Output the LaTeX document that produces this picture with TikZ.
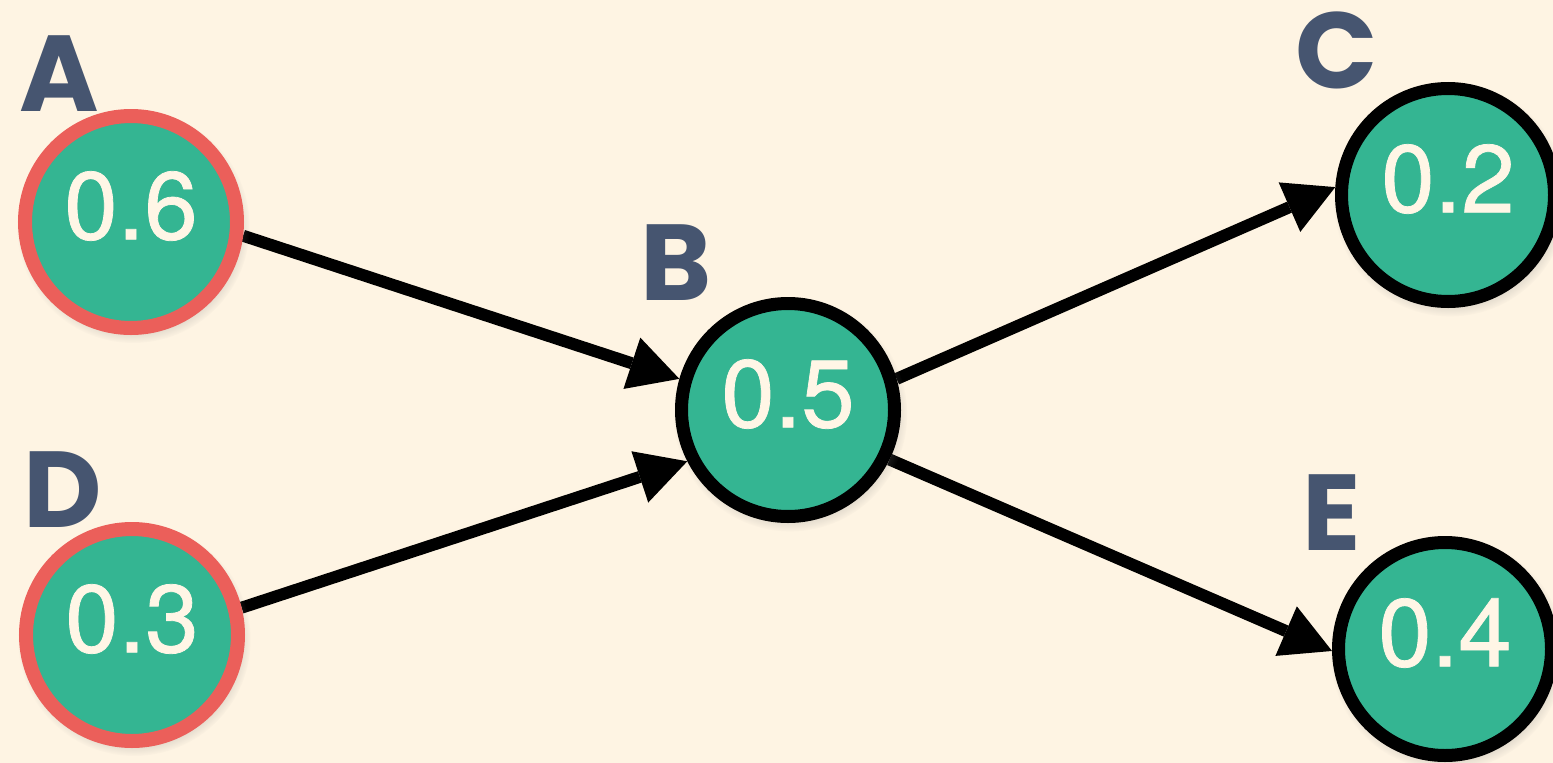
\documentclass[tikz,border=0pt]{standalone}
\usepackage{fontspec}
\usetikzlibrary{arrows.meta,shadows}
\newfontfamily\letterfont{Poppins}
\newfontfamily\digitfont{TeX Gyre Heros}[FakeBold=0.8]
\definecolor{paper}{HTML}{FEF4E3}
\definecolor{nodegreen}{HTML}{34B592}
\definecolor{ringred}{HTML}{EB5F5A}
\definecolor{slate}{HTML}{465570}
\definecolor{cream}{HTML}{FFF6E6}
\pgfdeclarelayer{paperlayer}
\pgfdeclarelayer{edgelayer}
\pgfsetlayers{paperlayer,edgelayer,main}
\begin{document}
\begin{tikzpicture}[x=1pt,y=-1pt,
  unit/.style={circle, minimum size=213pt, inner sep=0pt, line width=13pt,
    draw=black, fill=nodegreen,
    circular drop shadow={shadow xshift=2pt, shadow yshift=-4pt, shadow scale=1.1, opacity=0.35}},
  inputunit/.style={unit, draw=ringred, line width=14pt, minimum size=212pt},
  value/.style={font=\digitfont\fontsize{96}{96}\selectfont, text=cream, inner sep=0pt, yshift=16pt},
  tag/.style={font=\letterfont\bfseries\fontsize{108}{108}\selectfont, text=slate, inner sep=0pt},
  link/.style={line width=12pt, draw=black, -{Triangle[length=50pt,width=54pt,line width=0pt]}}]

\begin{pgfonlayer}{paperlayer}
  \fill[paper] (0,0) rectangle (1553,763);
\end{pgfonlayer}
\useasboundingbox (0,0) rectangle (1553,763);

% units
\node[inputunit] (A) at (131,222) {};
\node[inputunit] (D) at (132,635) {};
\node[unit] (B) at (788,410) {};
\node[unit] (C) at (1448,195) {};
\node[unit] (E) at (1445,649) {};

% activation values
\node[value] (Aval) at (A.center) {0.6};
\node[value] (Dval) at (D.center) {0.3};
\node[value] (Bval) at (B.center) {0.5};
\node[value] (Cval) at (C.center) {0.2};
\node[value] (Eval) at (E.center) {0.4};

% unit names
\node[tag] (Atag) at (59,74) {A};
\node[tag] (Dtag) at (63,490) {D};
\node[tag] (Btag) at (676,263) {B};
\node[tag] (Ctag) at (1337,50) {C};
\node[tag] (Etag) at (1332,513) {E};

% weighted connections
\begin{pgfonlayer}{edgelayer}
  \draw[link] (A.-7) -- (B.164);
  \draw[link] (D.14) -- (B.207);
  \draw[link] (B.16) -- (C.176);
  \draw[link] (B.-26) -- (E.181);
\end{pgfonlayer}
\end{tikzpicture}
\end{document}
